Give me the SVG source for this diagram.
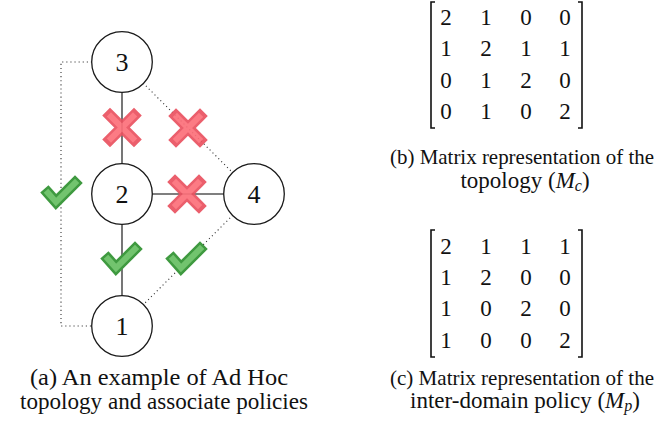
<svg xmlns="http://www.w3.org/2000/svg" width="661" height="429" viewBox="0 0 661 429">
<style>
.node circle{fill:#fff;stroke:#1a1a1a;stroke-width:1.3}
.node text{font-family:"Liberation Serif",serif;font-size:26px;text-anchor:middle;fill:#111}
.solid{stroke:#555;stroke-width:1.6;fill:none}
.dot{stroke:#333;stroke-width:1.1;stroke-dasharray:1.1 3;fill:none}
.mx text{font-family:"Liberation Serif",serif;font-size:23px;text-anchor:middle;fill:#111}
.br{stroke:#111;stroke-width:1.6;fill:none}
.cap{font-family:"Liberation Serif",serif;font-size:23px;text-anchor:middle;fill:#111}
.capn{font-size:21px}
.xo{stroke:#ea5260;stroke-width:11;stroke-linecap:square;fill:none}
.xi{stroke:#fc707a;stroke-width:6;stroke-linecap:square;fill:none}
.co{stroke:#3f9a40;stroke-width:11;stroke-linecap:square;stroke-linejoin:miter;fill:none}
.ci{stroke:#72c46e;stroke-width:6;stroke-linecap:square;stroke-linejoin:miter;fill:none}
</style>
<defs>
<g id="xmark" opacity="0.92">
<path class="xo" d="M-12,-12 L12,12 M12,-12 L-12,12"/>
<path class="xi" d="M-11,-11 L11,11 M11,-11 L-11,11"/>
</g>
<g id="check">
<path class="co" d="M-14,-1 L-6,8 L13,-11"/>
<path class="ci" d="M-14,-1 L-6,8 L13,-11"/>
</g>
</defs>
<g id="connectors">
<path class="solid" d="M122,92 V164 M122,224 V296 M152,194 H224"/>
<path class="dot" d="M92,62 H61 V326 H92"/>
<path class="dot" d="M143,83 L233,173"/>
<path class="dot" d="M233,215 L143,305"/>
</g>
<g id="marks">
<use href="#xmark" x="122" y="127.5"/>
<use href="#xmark" x="188" y="128"/>
<use href="#xmark" x="187" y="194"/>
<use href="#check" x="62" y="194"/>
<use href="#check" x="122" y="260"/>
<use href="#check" x="187" y="260"/>
</g>
<g id="node3" class="node"><circle cx="122" cy="62" r="30.3"/><text x="122" y="70.5">3</text></g>
<g id="node2" class="node"><circle cx="122" cy="194" r="30.3"/><text x="122" y="202.5">2</text></g>
<g id="node4" class="node"><circle cx="254" cy="194" r="30.3"/><text x="254" y="202.5">4</text></g>
<g id="node1" class="node"><circle cx="122" cy="326" r="30.3"/><text x="122" y="334.5">1</text></g>
<g id="matrixMc" class="mx">
<path class="br" d="M435,2 H431 V128 H435 M578,2 H582 V128 H578"/>
<text x="446" y="25">2</text><text x="486" y="25">1</text><text x="526" y="25">0</text><text x="565" y="25">0</text>
<text x="446" y="56">1</text><text x="486" y="56">2</text><text x="526" y="56">1</text><text x="565" y="56">1</text>
<text x="446" y="87.5">0</text><text x="486" y="87.5">1</text><text x="526" y="87.5">2</text><text x="565" y="87.5">0</text>
<text x="446" y="119">0</text><text x="486" y="119">1</text><text x="526" y="119">0</text><text x="565" y="119">2</text>
</g>
<g id="matrixMp" class="mx">
<path class="br" d="M435,230 H431 V357 H435 M578,230 H582 V357 H578"/>
<text x="446" y="253.5">2</text><text x="486" y="253.5">1</text><text x="526" y="253.5">1</text><text x="565" y="253.5">1</text>
<text x="446" y="284.5">1</text><text x="486" y="284.5">2</text><text x="526" y="284.5">0</text><text x="565" y="284.5">0</text>
<text x="446" y="316">1</text><text x="486" y="316">0</text><text x="526" y="316">2</text><text x="565" y="316">0</text>
<text x="446" y="347.5">1</text><text x="486" y="347.5">0</text><text x="526" y="347.5">0</text><text x="565" y="347.5">2</text>
</g>
<g id="captions">
<text class="cap" x="159" y="385" textLength="258" lengthAdjust="spacingAndGlyphs">(a) An example of Ad Hoc</text>
<text class="cap" x="164" y="409" textLength="288" lengthAdjust="spacingAndGlyphs">topology and associate policies</text>
<text class="cap capn" x="522" y="164" textLength="264" lengthAdjust="spacingAndGlyphs">(b) Matrix representation of the</text>
<text class="cap" x="525" y="188">topology (<tspan font-style="italic">M</tspan><tspan font-style="italic" font-size="16" dy="3">c</tspan><tspan dy="-3">)</tspan></text>
<text class="cap capn" x="522" y="384.5" textLength="264" lengthAdjust="spacingAndGlyphs">(c) Matrix representation of the</text>
<text class="cap" x="525" y="408">inter-domain policy (<tspan font-style="italic">M</tspan><tspan font-style="italic" font-size="16" dy="3">p</tspan><tspan dy="-3">)</tspan></text>
</g>
</svg>
